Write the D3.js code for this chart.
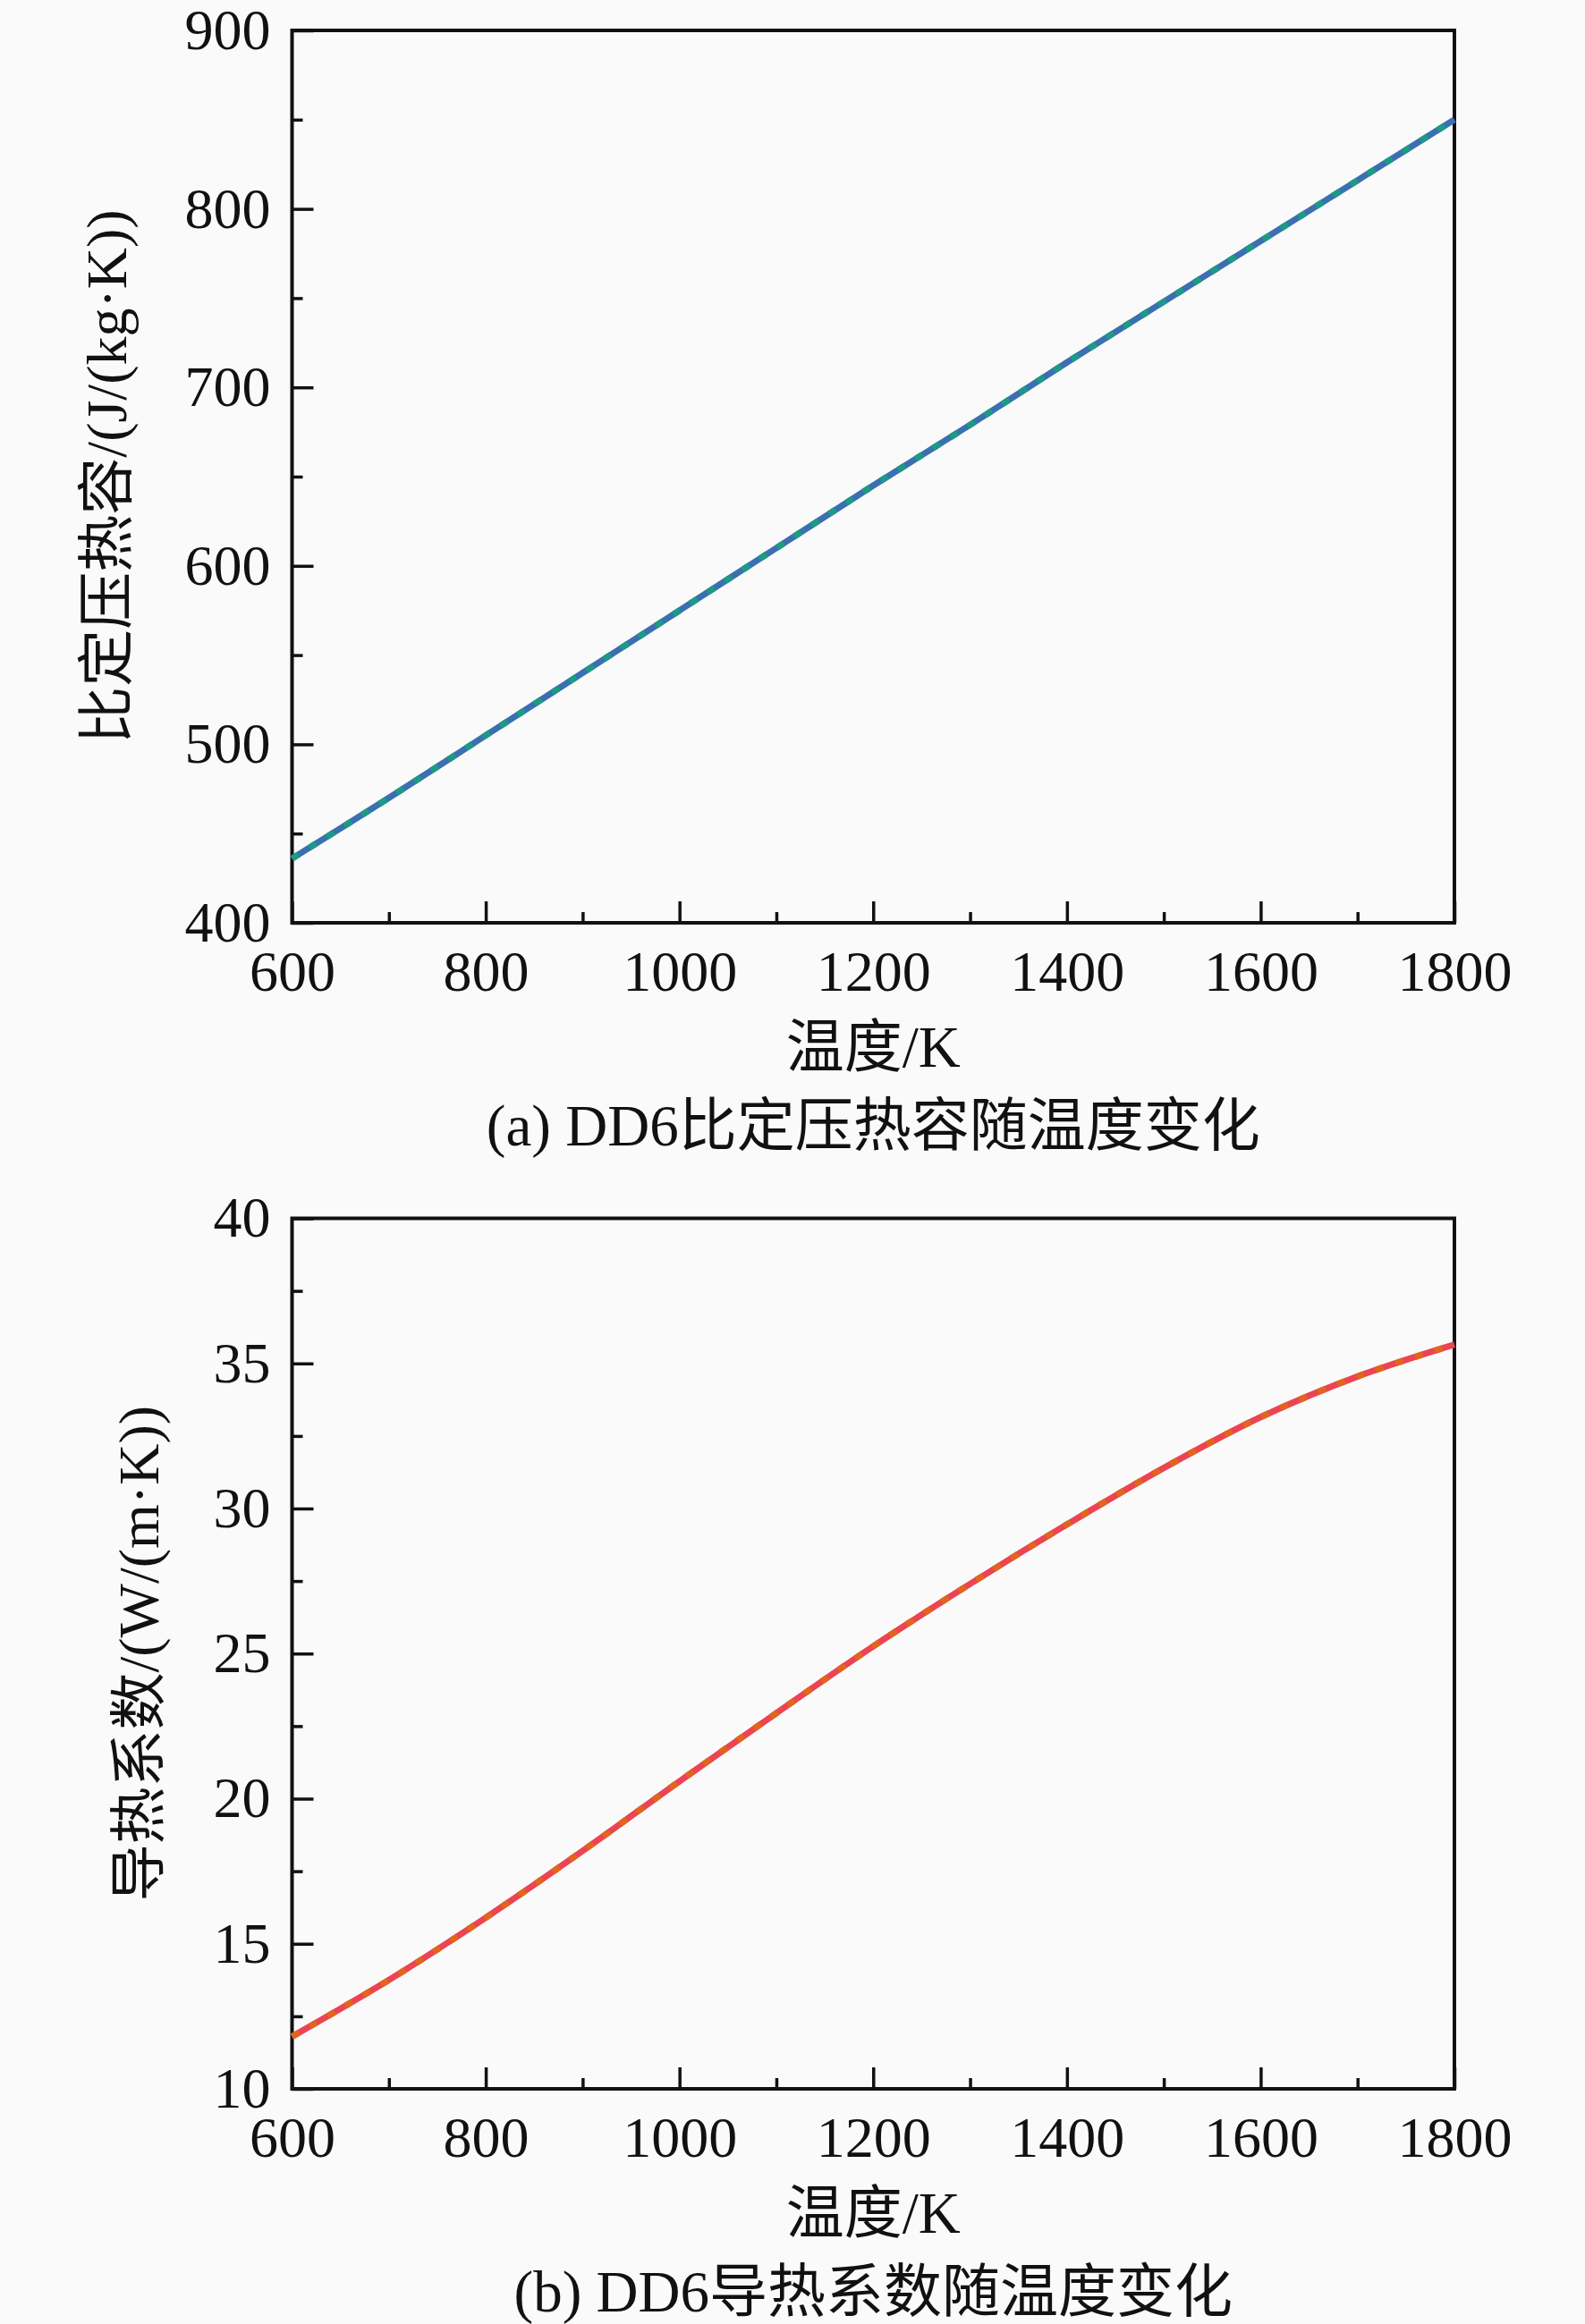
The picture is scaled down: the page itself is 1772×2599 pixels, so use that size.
<!DOCTYPE html>
<html>
<head>
<meta charset="utf-8">
<script src="https://cdn.jsdelivr.net/npm/d3@7"></script>
<title>DD6 热物性参数</title>
<style>
  body { margin: 0; background: #fafafa; }
  text { font-family: "Liberation Serif", "Times New Roman", "Noto Sans CJK SC", serif; fill: #111; }
</style>
</head>
<body>
<div id="chart"></div>
<script>
// temperature samples (K)
var temps = [600, 700, 800, 900, 1000, 1100, 1200, 1300, 1400, 1500, 1600, 1700, 1800];
// (a) specific heat capacity, J/(kg·K)
var cpValues = [436, 470, 505, 540, 575, 610, 645, 679, 714, 748, 782, 816, 850];
// (b) thermal conductivity, W/(m·K)
var kValues = [11.8, 13.75, 15.9, 18.2, 20.6, 22.95, 25.25, 27.4, 29.45, 31.4, 33.15, 34.55, 35.65];

var xTicks = [600, 800, 1000, 1200, 1400, 1600, 1800];
var cpTicks = [400, 500, 600, 700, 800, 900];
var kTicks = [10, 15, 20, 25, 30, 35, 40];

var W = 1772, H = 2599;
var left = 326.5, right = 1626;

var svg = d3.select("#chart").append("svg")
    .attr("width", W).attr("height", H);

function styleAxis(s) {
  s.select(".domain").remove();
  s.selectAll("line").attr("stroke-width", 3.5).attr("stroke", "#111");
  s.selectAll("text").attr("font-size", 64).attr("fill", "#111")
    .attr("font-family", "Liberation Serif, serif");
}

function drawPanel(opt) {
  var x = d3.scaleLinear().domain([600, 1800]).range([left, right]);
  var y = d3.scaleLinear().domain(opt.yDomain).range([opt.bottom, opt.top]);
  var g = svg.append("g");

  // minor ticks
  var xMinor = d3.range(700, 1800, 200);
  var yStep = opt.yTicks[1] - opt.yTicks[0];
  var yMinor = opt.yTicks.slice(0, -1).map(function(d) { return d + yStep / 2; });

  g.append("g").attr("transform", "translate(0," + opt.bottom + ")")
    .call(d3.axisBottom(x).tickValues(xMinor).tickSize(-12).tickSizeOuter(0).tickFormat(""))
    .call(styleAxis);
  g.append("g").attr("transform", "translate(" + left + ",0)")
    .call(d3.axisLeft(y).tickValues(yMinor).tickSize(-12).tickSizeOuter(0).tickFormat(""))
    .call(styleAxis);

  // major ticks + labels
  g.append("g").attr("transform", "translate(0," + opt.bottom + ")")
    .call(d3.axisBottom(x).tickValues(xTicks).tickSize(-24).tickSizeOuter(0).tickPadding(31).tickFormat(d3.format("d")))
    .call(styleAxis);
  g.append("g").attr("transform", "translate(" + left + ",0)")
    .call(d3.axisLeft(y).tickValues(opt.yTicks).tickSize(-24).tickSizeOuter(0).tickPadding(24).tickFormat(d3.format("d")))
    .call(styleAxis);

  // frame
  g.append("rect")
    .attr("x", left).attr("y", opt.top)
    .attr("width", right - left).attr("height", opt.bottom - opt.top)
    .attr("fill", "none").attr("stroke", "#111").attr("stroke-width", 4);

  // data line: two overlapping series
  var line = d3.line()
    .x(function(d, i) { return x(temps[i]); })
    .y(function(d) { return y(d); })
    .curve(d3.curveCatmullRom.alpha(0.5));

  g.append("path").datum(opt.values)
    .attr("d", line).attr("fill", "none")
    .attr("stroke", opt.color1).attr("stroke-width", 7);
  g.append("path").datum(opt.values)
    .attr("d", line).attr("fill", "none")
    .attr("stroke", opt.color2).attr("stroke-width", 7)
    .attr("stroke-dasharray", "9,14");

  // titles
  g.append("text")
    .attr("x", (left + right) / 2).attr("y", opt.bottom + 161)
    .attr("text-anchor", "middle").attr("font-size", 65)
    .text("温度/K");
  g.append("text")
    .attr("x", (left + right) / 2).attr("y", opt.bottom + 249)
    .attr("text-anchor", "middle").attr("font-size", 65)
    .text(opt.caption);
  g.append("text")
    .attr("transform", "translate(" + opt.titleX + "," + (opt.top + opt.bottom) / 2 + ") rotate(-90)")
    .attr("dy", "0.35em")
    .attr("text-anchor", "middle").attr("font-size", 64)
    .text(opt.yTitle);
}

drawPanel({
  top: 34, bottom: 1032,
  yDomain: [400, 900], yTicks: cpTicks, values: cpValues,
  color1: "#3a70b0", color2: "#1d9a86",
  titleX: 119,
  yTitle: "比定压热容/(J/(kg·K))",
  caption: "(a) DD6比定压热容随温度变化"
});

drawPanel({
  top: 1362.5, bottom: 2336,
  yDomain: [10, 40], yTicks: kTicks, values: kValues,
  color1: "#ec4452", color2: "#e0661e",
  titleX: 155,
  yTitle: "导热系数/(W/(m·K))",
  caption: "(b) DD6导热系数随温度变化"
});
</script>
</body>
</html>
